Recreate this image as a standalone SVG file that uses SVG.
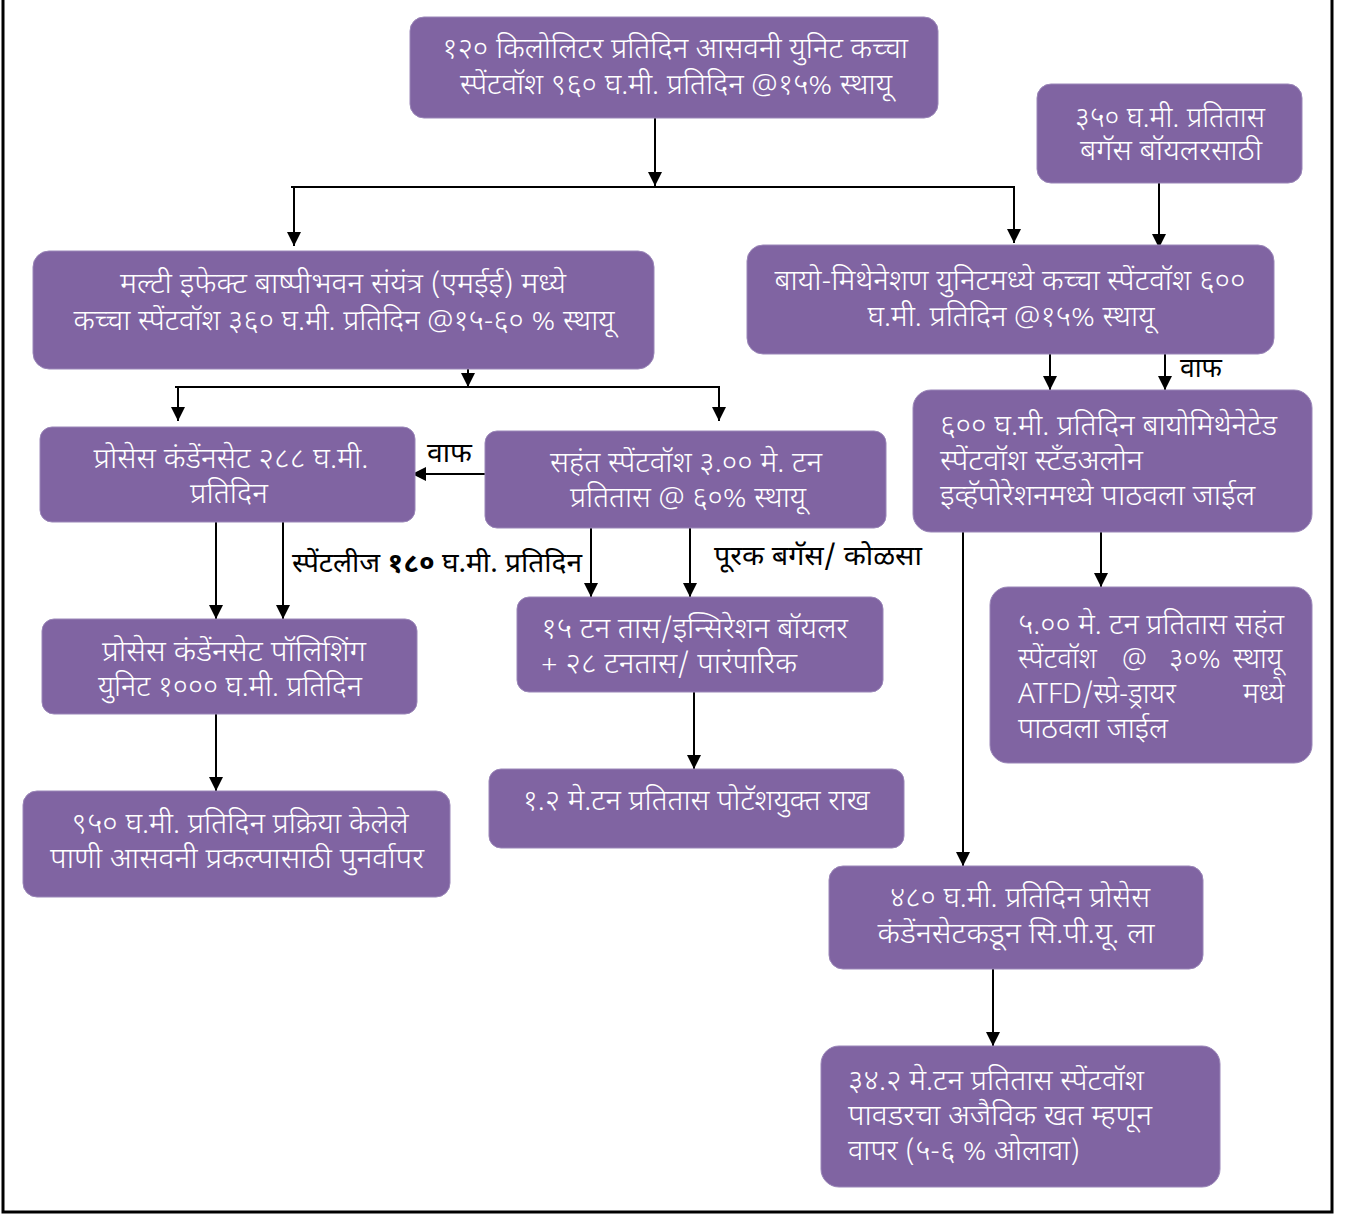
<svg xmlns="http://www.w3.org/2000/svg" width="1351" height="1215" viewBox="0 0 1351 1215">
<defs>
<marker id="ah" markerUnits="userSpaceOnUse" markerWidth="14" markerHeight="16" viewBox="0 0 14 16" refX="14" refY="7" orient="auto">
<path d="M0,0 L14,7 L0,14 Z" fill="#000"/>
</marker>
</defs>
<style>
.box{fill:#8064a2;stroke:#9a86b8;stroke-width:1}
.t{font-family:"Noto Sans Devanagari","Noto Sans","Liberation Sans",sans-serif;font-size:28px;font-weight:300;fill:#fff}
.c{text-anchor:middle}
.l{font-family:"Noto Sans Devanagari","Noto Sans","Liberation Sans",sans-serif;font-size:27px;font-weight:400;fill:#000}
.cn{fill:none;stroke:#000;stroke-width:2}
.ar{marker-end:url(#ah)}
</style>
<rect width="1351" height="1215" fill="#fff"/>
<path d="M3,0 V1212 H1332 V0" fill="none" stroke="#000" stroke-width="3"/>

<g id="connectors">
<path class="cn ar" d="M655,118 V186"/>
<path class="cn" d="M291,187 H1015"/>
<path class="cn ar" d="M294,187 V246"/>
<path class="cn ar" d="M1014,187 V243"/>
<path class="cn ar" d="M1159,181 V248"/>
<path class="cn ar" d="M468,369 V387"/>
<path class="cn" d="M175,387 H720"/>
<path class="cn ar" d="M178,387 V421"/>
<path class="cn ar" d="M719,387 V421"/>
<path class="cn ar" d="M1050,354 V390"/>
<path class="cn ar" d="M1165,354 V390"/>
<path class="cn ar" d="M485,474 H412"/>
<path class="cn ar" d="M216,522 V619"/>
<path class="cn ar" d="M283,522 V619"/>
<path class="cn ar" d="M591,528 V597"/>
<path class="cn ar" d="M690,528 V597"/>
<path class="cn ar" d="M216,714 V791"/>
<path class="cn ar" d="M694,692 V769"/>
<path class="cn ar" d="M1101,532 V587"/>
<path class="cn ar" d="M963,532 V866"/>
<path class="cn ar" d="M993,969 V1046"/>
<text class="l" x="427" y="462" textLength="45" lengthAdjust="spacingAndGlyphs">वाफ</text>
<text class="l" x="1180" y="377" textLength="42" lengthAdjust="spacingAndGlyphs">वाफ</text>
<text class="l" x="292" y="572" textLength="290" lengthAdjust="spacingAndGlyphs">स्पेंटलीज <tspan font-weight="bold">१८०</tspan> घ.मी. प्रतिदिन</text>
<text class="l" x="714" y="565" textLength="208" lengthAdjust="spacingAndGlyphs">पूरक बगॅस/ कोळसा</text>
</g>

<g id="n1">
<rect class="box" x="410" y="17" width="528" height="101" rx="14"/>
<text class="t c" x="675" y="58" textLength="466" lengthAdjust="spacingAndGlyphs">१२० किलोलिटर प्रतिदिन आसवनी युनिट कच्चा</text>
<text class="t c" x="676" y="94" textLength="432" lengthAdjust="spacingAndGlyphs">स्पेंटवॉश ९६० घ.मी. प्रतिदिन @१५% स्थायू</text>
</g>
<g id="n2">
<rect class="box" x="1037" y="84" width="265" height="99" rx="14"/>
<text class="t c" x="1170" y="127" textLength="190" lengthAdjust="spacingAndGlyphs">३५० घ.मी. प्रतितास</text>
<text class="t c" x="1171" y="160" textLength="182" lengthAdjust="spacingAndGlyphs">बगॅस बॉयलरसाठी</text>
</g>
<g id="n3">
<rect class="box" x="33" y="251" width="621" height="118" rx="16"/>
<text class="t c" x="343" y="293" textLength="446" lengthAdjust="spacingAndGlyphs">मल्टी इफेक्ट बाष्पीभवन संयंत्र (एमईई) मध्ये</text>
<text class="t c" x="344" y="330" textLength="541" lengthAdjust="spacingAndGlyphs">कच्चा स्पेंटवॉश ३६० घ.मी. प्रतिदिन @१५-६० % स्थायू</text>
</g>
<g id="n4">
<rect class="box" x="747" y="245" width="527" height="109" rx="16"/>
<text class="t c" x="1010" y="290" textLength="471" lengthAdjust="spacingAndGlyphs">बायो-मिथेनेशण युनिटमध्ये कच्चा स्पेंटवॉश ६००</text>
<text class="t c" x="1011" y="326" textLength="287" lengthAdjust="spacingAndGlyphs">घ.मी. प्रतिदिन @१५% स्थायू</text>
</g>
<g id="n5">
<rect class="box" x="40" y="427" width="375" height="95" rx="12"/>
<text class="t c" x="231" y="468" textLength="275" lengthAdjust="spacingAndGlyphs">प्रोसेस कंडेंनसेट २८८ घ.मी.</text>
<text class="t c" x="229" y="503" textLength="78" lengthAdjust="spacingAndGlyphs">प्रतिदिन</text>
</g>
<g id="n6">
<rect class="box" x="485" y="431" width="401" height="97" rx="12"/>
<text class="t c" x="686" y="472" textLength="272" lengthAdjust="spacingAndGlyphs">सहंत स्पेंटवॉश ३.०० मे. टन</text>
<text class="t c" x="688" y="507" textLength="236" lengthAdjust="spacingAndGlyphs">प्रतितास @ ६०% स्थायू</text>
</g>
<g id="n7">
<rect class="box" x="913" y="390" width="399" height="142" rx="18"/>
<text class="t" x="940" y="435" textLength="337" lengthAdjust="spacingAndGlyphs">६०० घ.मी. प्रतिदिन बायोमिथेनेटेड</text>
<text class="t" x="940" y="470" textLength="203" lengthAdjust="spacingAndGlyphs">स्पेंटवॉश स्टँडअलोन</text>
<text class="t" x="940" y="505" textLength="315" lengthAdjust="spacingAndGlyphs">इव्हॅपोरेशनमध्ये पाठवला जाईल</text>
</g>
<g id="n8">
<rect class="box" x="990" y="587" width="322" height="176" rx="18"/>
<text class="t" x="1018" y="634" textLength="266" lengthAdjust="spacingAndGlyphs">५.०० मे. टन प्रतितास सहंत</text>
<text class="t" y="668"><tspan x="1018">स्पेंटवॉश</tspan><tspan x="1122">@</tspan><tspan x="1169">३०%</tspan><tspan x="1233">स्थायू</tspan></text>
<text class="t" y="703"><tspan x="1018">ATFD/स्प्रे-ड्रायर</tspan><tspan x="1243">मध्ये</tspan></text>
<text class="t" x="1018" y="738" textLength="150" lengthAdjust="spacingAndGlyphs">पाठवला जाईल</text>
</g>
<g id="n9">
<rect class="box" x="829" y="866" width="374" height="103" rx="14"/>
<text class="t c" x="1020" y="907" textLength="260" lengthAdjust="spacingAndGlyphs">४८० घ.मी. प्रतिदिन प्रोसेस</text>
<text class="t c" x="1016" y="943" textLength="277" lengthAdjust="spacingAndGlyphs">कंडेंनसेटकडून सि.पी.यू. ला</text>
</g>
<g id="n10">
<rect class="box" x="821" y="1046" width="399" height="141" rx="18"/>
<text class="t" x="848" y="1090" textLength="296" lengthAdjust="spacingAndGlyphs">३४.२ मे.टन प्रतितास स्पेंटवॉश</text>
<text class="t" x="848" y="1125" textLength="304" lengthAdjust="spacingAndGlyphs">पावडरचा अजैविक खत म्हणून</text>
<text class="t" x="848" y="1160" textLength="232" lengthAdjust="spacingAndGlyphs">वापर (५-६ % ओलावा)</text>
</g>
<g id="n11">
<rect class="box" x="42" y="619" width="375" height="95" rx="12"/>
<text class="t c" x="234" y="661" textLength="264" lengthAdjust="spacingAndGlyphs">प्रोसेस कंडेंनसेट पॉलिशिंग</text>
<text class="t c" x="230" y="696" textLength="264" lengthAdjust="spacingAndGlyphs">युनिट १००० घ.मी. प्रतिदिन</text>
</g>
<g id="n12">
<rect class="box" x="517" y="597" width="366" height="95" rx="12"/>
<text class="t" x="541" y="638" textLength="307" lengthAdjust="spacingAndGlyphs">१५ टन तास/इन्सिरेशन बॉयलर</text>
<text class="t" x="541" y="673" textLength="256" lengthAdjust="spacingAndGlyphs">+ २८ टनतास/ पारंपारिक</text>
</g>
<g id="n13">
<rect class="box" x="23" y="791" width="427" height="106" rx="14"/>
<text class="t c" x="240" y="833" textLength="337" lengthAdjust="spacingAndGlyphs">९५० घ.मी. प्रतिदिन प्रक्रिया केलेले</text>
<text class="t c" x="237" y="868" textLength="374" lengthAdjust="spacingAndGlyphs">पाणी आसवनी प्रकल्पासाठी पुनर्वापर</text>
</g>
<g id="n14">
<rect class="box" x="489" y="769" width="415" height="79" rx="12"/>
<text class="t c" x="696" y="810" textLength="347" lengthAdjust="spacingAndGlyphs">१.२ मे.टन प्रतितास पोटॅशयुक्त राख</text>
</g>
</svg>
